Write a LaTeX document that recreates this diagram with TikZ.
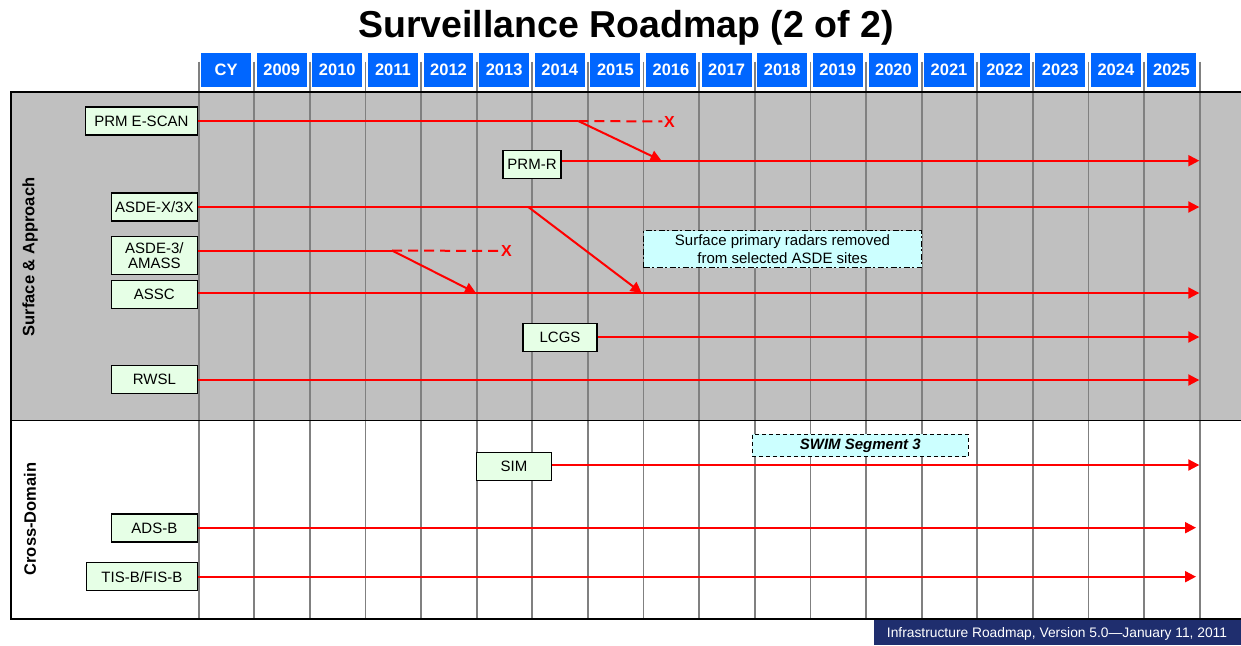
\documentclass[tikz,border=0pt]{standalone}
\usepackage{fontspec}
\setmainfont{Liberation Sans}
\usetikzlibrary{arrows.meta}
\definecolor{panelgray}{RGB}{192,192,192}
\definecolor{gridgray}{RGB}{128,128,128}
\definecolor{hdrblue}{RGB}{0,102,255}
\definecolor{lblgreen}{RGB}{230,255,230}
\definecolor{notecyan}{RGB}{204,255,255}
\definecolor{footnavy}{RGB}{31,46,110}
\definecolor{arrred}{RGB}{255,0,0}
\tikzset{
  hdr/.style={fill=hdrblue, text=white, font=\fontsize{16.5}{18}\selectfont\bfseries, minimum width=49.8pt, minimum height=33.7pt, inner sep=0pt, anchor=west},
  lbl/.style={draw=black, line width=1.3pt, fill=lblgreen, font=\fontsize{15}{14.5}\selectfont, minimum height=28pt, inner sep=0pt, align=center},
  flow/.style={draw=arrred, line width=2pt, -{Triangle[length=11pt,width=11pt]}},
  flowplain/.style={draw=arrred, line width=2pt},
  cancel/.style={draw=arrred, line width=2pt, dash pattern=on 10pt off 6pt},
  xmark/.style={text=arrred, font=\fontsize{16}{16}\selectfont\bfseries, inner sep=0pt},
  sect/.style={rotate=90, font=\fontsize{16.5}{18}\selectfont\bfseries, inner sep=0pt},
  gridline/.style={draw=gridgray, line width=1.8pt},
  note/.style={fill=notecyan, draw=black, line width=1.3pt, inner sep=0pt, align=center}
}
\begin{document}
\begin{tikzpicture}[x=1pt,y=-1pt]
\useasboundingbox (0,0) rectangle (1241,645);
% title
\node[font=\fontsize{37.5}{40}\selectfont\bfseries, inner sep=0pt] (title) at (626,28) {Surveillance Roadmap (2 of 2)};
% panels
\fill[panelgray] (11,92) rectangle (1241,420.5);
\fill[white] (11,420.5) rectangle (1241,619);
% grid lines
\foreach \i in {0,...,18} {
  \draw[gridline] ({198.7+55.61*\i},61.5) -- ({198.7+55.61*\i},619);
}
% borders
\draw[black, line width=1.8pt] (1241,92) -- (11,92) -- (11,619) -- (1241,619);
\draw[black, line width=1.8pt] (11,420.5) -- (1241,420.5);
% header
\foreach \t [count=\i from 0] in {CY,2009,2010,2011,2012,2013,2014,2015,2016,2017,2018,2019,2020,2021,2022,2023,2024,2025} {
  \node[hdr] (h\t) at ({198.7+55.61*\i+2.3},70) {\t};
}
% section labels
\node[sect] (secSA) at (30,257) {Surface \& Approach};
\node[sect] (secCD) at (30,519) {Cross-Domain};
% label nodes
\node[lbl, minimum width=112pt, anchor=east] (escan) at (198,121) {PRM E-SCAN};
\node[lbl, minimum width=58pt] (prmr) at (532,164.2) {PRM-R};
\node[lbl, minimum width=86pt, anchor=east] (asdex) at (198,207) {ASDE-X/3X};
\node[lbl, minimum width=86pt, minimum height=37.6pt, anchor=east] (amass) at (198,255.5) {ASDE-3/\\AMASS};
\node[lbl, minimum width=86pt, anchor=east] (assc) at (198,294.5) {ASSC};
\node[lbl, minimum width=74pt] (lcgs) at (560,337.5) {LCGS};
\node[lbl, minimum width=86pt, anchor=east] (rwsl) at (198,379.5) {RWSL};
\node[lbl, minimum width=75pt] (sim) at (514,466.3) {SIM};
\node[lbl, minimum width=86pt, anchor=east] (adsb) at (198,528) {ADS-B};
\node[lbl, minimum width=111pt, anchor=east] (tisb) at (198,576.7) {TIS-B/FIS-B};
% notes
\node[note, dash pattern=on 6pt off 2.5pt on 2pt off 2.5pt, minimum width=278pt, minimum height=37pt, font=\fontsize{15}{18}\selectfont] (radars) at (782.5,249.2) {Surface primary radars removed\\from selected ASDE sites};
\node[note, dash pattern=on 4pt off 3pt, minimum width=216pt, minimum height=22.4pt, font=\fontsize{15}{16}\selectfont\bfseries\itshape] (swim) at (860.3,445.5) {SWIM Segment 3};
% coordinates
\coordinate (escanSplit) at (578.3,121);
\node[xmark] (escanX) at (669.5,121.5) {X};
\coordinate (prmrEnd) at (1199.3,160.7);
\coordinate (prmrHit) at (661.5,160.7);
\coordinate (asdexSplit) at (528.3,207);
\coordinate (asdexEnd) at (1199.3,207);
\coordinate (amassSplit) at (392,250.5);
\node[xmark] (amassX) at (506.5,251) {X};
\coordinate (asscHit1) at (476,293);
\coordinate (asscHit2) at (641.7,293);
\coordinate (asscEnd) at (1199.3,293);
\coordinate (lcgsEnd) at (1199.3,337);
\coordinate (rwslEnd) at (1199.3,380);
\coordinate (simEnd) at (1199.3,465);
\coordinate (adsbEnd) at (1196,527.7);
\coordinate (tisbEnd) at (1196,576.7);
% connectors
\draw[flowplain] (escan.east) -- (escanSplit);
\draw[cancel] (escanSplit) -- ([xshift=-1.5pt]escanX.west);
\draw[flow] (escanSplit) -- (prmrHit);
\draw[flow] (prmr.east |- prmrEnd) -- (prmrEnd);
\draw[flow] (asdex.east) -- (asdexEnd);
\draw[flow] (asdexSplit) -- (asscHit2);
\draw[flowplain] ([yshift=5pt]amass.east) -- (amassSplit);
\draw[cancel] (amassSplit) -- ([xshift=-1.5pt]amassX.west);
\draw[flow] (amassSplit) -- (asscHit1);
\draw[flow] (assc.east |- asscEnd) -- (asscEnd);
\draw[flow] (lcgs.east |- lcgsEnd) -- (lcgsEnd);
\draw[flow] (rwsl.east |- rwslEnd) -- (rwslEnd);
\draw[flow] (sim.east |- simEnd) -- (simEnd);
\draw[flow] (adsb.east |- adsbEnd) -- (adsbEnd);
\draw[flow] (tisb.east) -- (tisbEnd);
% footer
\fill[footnavy] (874,619.5) rectangle (1241,645);
\node[text=white, font=\fontsize{13.8}{15}\selectfont, inner sep=0pt] (footer) at (1057,633.5) {Infrastructure Roadmap, Version 5.0—January 11, 2011};
\end{tikzpicture}
\end{document}
